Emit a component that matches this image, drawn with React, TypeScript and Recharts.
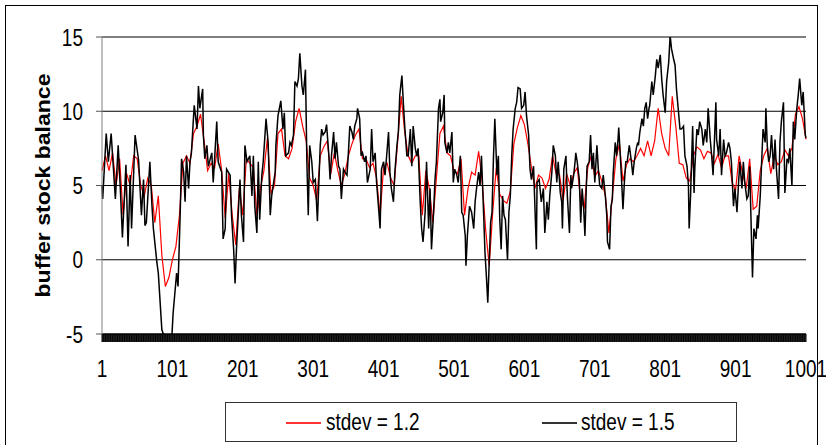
import React from 'react';
import { LineChart, Line, XAxis, YAxis, CartesianGrid } from 'recharts';

// red series is read every 5th period
const lowPeriods: number[] = Array.from({ length: 201 }, (_, i) => 1 + i * 5);

// stdev = 1.2 (red)
const lowStdev: number[] = [
  6.0, 7.0, 6.0, 7.2, 5.0, 6.8, 3.0, 5.8, 5.0, 7.0,
  6.8, 5.0, 4.3, 5.5, 5.0, 2.5, 4.3, 0.3, -1.8, -1.2,
  0.0, 0.9, 3.0, 6.5, 7.0, 6.5, 8.5, 9.0, 9.8, 8.0,
  6.0, 6.5, 6.2, 7.8, 6.0, 2.8, 5.8, 3.0, 1.0, 4.8,
  3.0, 6.8, 6.5, 6.2, 3.0, 4.8, 6.0, 8.2, 4.5,
  5.0, 8.5, 8.8, 7.0, 6.8, 7.5, 9.3, 10.2, 9.0, 8.0,
  5.5, 5.0, 4.0, 7.0, 7.6, 8.0, 5.8, 7.2, 6.0, 5.0,
  5.8, 7.0, 7.8, 8.4, 8.8, 6.8, 6.8, 6.2, 6.5, 5.5,
  3.0, 6.2, 6.5, 5.5, 5.0, 8.0, 11.0, 8.6, 7.0, 6.5,
  7.0, 7.0, 3.0, 6.0, 4.8,
  2.5, 5.5, 8.5, 9.0, 7.2, 7.0, 6.0, 5.8, 6.8, 3.0,
  4.8, 5.9, 5.7, 7.3, 5.3, 2.0, -0.4, 3.2, 6.2, 4.4,
  4.0, 3.8, 4.6, 7.8, 8.9, 9.7, 9.1, 7.8, 6.2, 4.8,
  5.7, 5.5, 4.8, 5.4, 7.0,
  5.8, 5.7, 4.0, 5.8, 5.0, 5.8, 6.2, 4.0, 3.5, 6.2,
  7.0, 5.6, 6.0, 5.3, 4.3, 1.8, 4.3, 6.8, 7.8, 5.3,
  6.4, 6.8, 6.6, 7.0, 7.5, 7.0, 8.0, 7.0, 8.0, 10.2,
  8.5, 7.5, 7.0, 11.0,
  9.0, 6.5, 6.4, 5.5, 5.3, 7.0, 7.6, 7.4, 6.8, 7.3,
  7.2, 6.5, 7.1, 6.2, 7.0, 7.0, 5.2, 4.7, 7.0, 5.8,
  4.8, 6.8, 3.4, 3.6, 6.0, 7.0, 7.5, 5.8, 7.0, 6.4,
  6.6, 7.4, 7.0, 7.5, 9.8, 10.3, 9.5, 8.1,
];

// black series is read at its turning points
const highPeriods: number[] = [
  1, 2, 7, 10, 14, 20, 24, 27, 30, 35, 38, 41, 43, 48, 53, 57, 60, 62, 64, 69,
  72, 74, 79, 81, 86, 88, 91, 95, 100, 102, 107, 109, 112, 114, 117, 119, 121, 124, 126, 128,
  132, 136, 138, 140, 144, 145, 147, 150, 152, 157, 159, 164, 166, 171, 173, 176, 178, 183, 185, 188,
  190, 192, 197, 199, 202, 204, 207, 211, 214, 216, 218, 221, 223, 225, 228, 230, 234, 237, 240,
  242, 247, 248, 251, 255, 258, 260, 262, 266, 268, 270, 273, 275, 278, 280, 282, 285, 287, 290, 292,
  294, 296, 299, 301, 304, 307, 311, 313, 315, 318, 320, 323, 325, 327, 330, 332, 334, 337, 339, 341,
  344, 346, 349, 351, 353, 356, 358, 360, 363, 364, 367, 369, 371, 374, 376, 378, 382, 384, 386, 389,
  391, 394, 396, 398, 401, 403, 405, 408, 410, 412, 415, 417, 420, 422, 424, 427, 429, 431, 434, 436,
  439, 441, 443, 446, 448, 450, 453, 455, 457, 460, 462, 465, 467, 469, 472, 474, 476, 479, 481,
  482, 485, 487, 488, 491, 493, 495, 498, 500, 502, 505, 507, 510, 512, 514, 517, 518, 520, 523, 526,
  529, 531, 533, 536, 538, 540, 543, 545, 547, 549, 551, 553, 555, 557, 559, 562, 564, 566, 568, 570,
  572, 574, 577, 579, 581, 583, 585, 588, 590, 592, 595, 597, 600, 602, 604, 607, 609, 611, 614, 618,
  619, 622, 625, 628, 630, 633, 635, 637, 640, 642, 645, 647, 649, 652,
  654, 655, 657, 660, 662, 665, 667, 668, 671, 673, 674, 676, 679, 681, 683, 685, 687, 689, 690, 693,
  695, 697, 699, 701, 704, 706, 708, 711, 713, 716, 718, 719, 722, 724, 726, 727, 730, 732, 734, 735,
  738, 739, 741, 743, 745, 747, 750, 753, 755, 757, 760, 762, 763, 765, 768, 770, 772, 774, 776, 778,
  779, 782, 784, 787, 789, 791, 794, 796, 798, 801, 803, 806, 808, 810, 813, 815, 817, 820, 822,
  824, 827, 829, 832, 834, 835, 837, 840, 842, 843, 846, 848, 850, 853, 855, 858, 860, 862, 865, 867,
  869, 871, 873, 874, 877, 879, 881, 884, 886, 888, 891, 893, 895, 898, 900, 903, 905, 907, 910, 912,
  914, 917, 919, 921, 923, 925, 927, 930, 932, 933, 936, 938, 940, 943, 944, 946, 948, 950, 952, 955,
  957, 959, 962, 964, 966, 969, 971, 974, 976, 978, 981, 983, 985, 988, 990, 992, 995, 997, 1000, 1001,
];

// stdev = 1.5 (black)
const highStdev: number[] = [
  5.0, 4.1, 8.5, 6.6, 8.5, 4.1, 7.7, 4.8, 1.5, 6.4, 0.9, 5.7, 2.1, 8.4, 6.7, 3.0, 5.4, 2.3, 2.5, 6.6,
  3.6, 2.1, -0.2, -0.9, -4.7, -5.0, -6.1, -5.6, -5.4, -3.6, -0.9, -1.8, 3.0, 6.8, 5.9, 3.9, 7.0, 4.8, 6.6, 7.2,
  10.4, 8.8, 11.7, 10.2, 11.5, 8.4, 6.8, 7.7, 6.3, 7.2, 5.2, 9.3, 6.6, 5.9, 1.4, 2.1, 6.1, 5.7, 3.0, 0.7,
  -1.6, 0.7, 5.4, 3.0, 1.2, 7.7, 6.6, 7.0, 4.3, 7.0, 3.6, 1.8, 6.6, 2.7, 5.7, 6.6, 9.5, 7.9, 3.0,
  4.3, 5.9, 7.7, 9.7, 10.7, 8.8, 9.9, 7.0, 7.2, 7.9, 7.7, 8.4, 12.0, 11.7, 12.2, 13.9, 11.7, 11.1, 12.8, 6.6,
  3.0, 7.7, 6.6, 5.2, 5.4, 2.6, 7.7, 8.8, 8.4, 8.6, 9.1, 7.2, 5.4, 7.0, 8.6, 6.8, 7.9, 6.3, 6.1, 4.1,
  6.1, 5.9, 5.7, 7.2, 9.0, 8.6, 8.1, 9.0, 9.5, 10.2, 9.5, 7.0, 7.2, 6.6, 7.0, 5.2, 6.1, 8.8, 6.6, 7.2,
  5.2, 3.4, 2.1, 6.1, 6.6, 5.7, 6.8, 8.6, 5.9, 4.8, 3.9, 5.9, 7.7, 8.6, 11.1, 12.4, 10.6, 9.0, 7.0, 7.0,
  8.8, 6.3, 9.0, 7.5, 7.0, 7.5, 3.9, 2.1, 1.2, 3.2, 6.6, 2.1, 4.8, 0.7, 3.2, 5.4, 6.6, 10.2, 10.8,
  9.3, 9.9, 11.1, 7.9, 7.2, 7.9, 7.2, 8.6, 5.2, 6.1, 5.7, 5.2, 7.0, 3.2, 3.0, 1.6, -0.4, 1.6, 3.6, 3.2,
  2.1, 3.9, 4.8, 5.9, 5.0, 7.0, 3.2, 0.5, -1.1, -2.9, -0.2, 2.5, 3.2, 6.8, 9.5, 5.7, 7.0, 2.7, 0.7, 4.3,
  3.0, 2.7, 0.0, 3.2, 4.3, 7.0, 8.8, 10.2, 10.6, 11.6, 11.5, 10.2, 10.4, 11.3, 9.7, 8.4, 6.1, 5.4, 6.3, 0.7,
  5.2, 5.4, 3.9, 4.8, 1.8, 3.9, 2.7, 4.3, 5.9, 7.7, 7.0, 5.2, 6.6, 4.5,
  3.9, 2.1, 6.1, 7.0, 4.3, 1.8, 5.7, 4.8, 5.7, 6.6, 7.2, 6.6, 5.4, 2.5, 4.8, 3.6, 1.6, 5.0, 6.3, 6.6,
  8.4, 6.1, 7.2, 5.2, 7.7, 6.1, 5.0, 4.8, 5.7, 4.3, 3.0, 1.2, 0.7, 3.6, 4.1, 5.7, 7.9, 7.0, 8.1, 8.9,
  6.3, 5.4, 3.4, 5.2, 6.6, 6.6, 7.7, 6.6, 5.7, 6.6, 7.5, 7.9, 7.7, 8.6, 9.5, 9.0, 10.2, 10.6, 9.5, 10.2,
  10.4, 12.0, 11.1, 12.4, 13.5, 12.9, 13.8, 12.2, 11.1, 9.9, 12.0, 13.3, 15.1, 14.2, 13.5, 13.1, 11.5, 9.9, 8.8,
  8.8, 9.0, 7.0, 6.3, 5.0, 2.1, 4.3, 9.0, 4.5, 6.1, 8.8, 8.4, 9.3, 8.8, 7.7, 8.8, 7.9, 10.2, 8.1, 7.0,
  5.7, 8.1, 10.6, 8.1, 7.0, 8.8, 5.7, 8.1, 7.0, 7.2, 7.9, 7.5, 6.6, 3.6, 4.8, 3.2, 5.0, 6.6, 4.8, 6.6,
  5.2, 4.1, 4.3, 6.3, 2.5, -1.2, 2.1, 1.4, 3.0, 2.1, 4.3, 6.6, 8.8, 7.9, 10.2, 7.7, 6.6, 7.0, 8.4, 6.1,
  8.1, 6.1, 4.1, 7.9, 9.3, 10.6, 4.5, 6.8, 6.6, 7.5, 5.0, 9.3, 8.1, 10.2, 11.1, 12.2, 10.4, 11.3, 8.4, 8.2,
];

const xLabels: number[] = [1, 101, 201, 301, 401, 501, 601, 701, 801, 901, 1001];
const yTicks: number[] = [-5, 0, 5, 10, 15];
const seriesNames = ['stdev = 1.2', 'stdev = 1.5'];

// one tick mark per period, like the Excel category axis
const xTickMarks: number[] = Array.from({ length: 1001 }, (_, i) => i + 1);

const lowData = lowPeriods.map((p, i) => ({ period: p, value: lowStdev[i] }));
const highData = highPeriods.map((p, i) => ({ period: p, value: highStdev[i] }));

const FONT = '"Liberation Sans", Arial, sans-serif';

const YTick = (props: any) => {
  const { x, y, payload } = props;
  return (
    <text
      transform={`translate(${x},${y}) scale(1,1.25)`}
      textAnchor="end"
      dy="0.36em"
      fontSize={19}
      fontFamily={FONT}
      fill="#000"
    >
      {payload.value}
    </text>
  );
};

const XTick = (props: any) => {
  const { x, y, payload } = props;
  if (!xLabels.includes(payload.value)) return <g />;
  return (
    <text
      transform={`translate(${x},${y + 26}) scale(1,1.25)`}
      textAnchor="middle"
      dy="0.36em"
      fontSize={19}
      fontFamily={FONT}
      fill="#000"
    >
      {payload.value}
    </text>
  );
};

const YTitle = () => (
  <text
    transform="translate(50,185.5) rotate(-90)"
    textAnchor="middle"
    fontSize={20}
    fontWeight="bold"
    fontFamily={FONT}
    fill="#000"
    textLength={224}
    lengthAdjust="spacingAndGlyphs"
  >
    buffer stock balance
  </text>
);

const legendText: React.CSSProperties = {
  position: 'absolute',
  top: 9,
  fontFamily: FONT,
  fontSize: 19,
  lineHeight: '19px',
  transform: 'scaleY(1.25)',
  transformOrigin: 'left center',
  whiteSpace: 'nowrap',
};

const App: React.FC = () => {
  return (
    <div style={{ position: 'absolute', left: 0, top: 0, width: 826, height: 445, overflow: 'hidden', background: '#fff' }}>
      <div
        style={{
          position: 'absolute',
          left: 5,
          top: 5,
          width: 813,
          height: 470,
          border: '1px solid #000',
          boxSizing: 'border-box',
        }}
      />
      <LineChart
        width={826}
        height={445}
        margin={{ top: 37, right: 20, bottom: 71, left: 0 }}
        style={{ position: 'absolute', left: 0, top: 0 }}
      >
        <CartesianGrid horizontal vertical={false} stroke="#000" strokeWidth={1} />
        <XAxis
          dataKey="period"
          type="number"
          domain={[1, 1001]}
          ticks={xTickMarks}
          interval={0}
          tick={<XTick />}
          tickSize={8}
          tickMargin={0}
          height={40}
          axisLine={{ stroke: '#000' }}
          tickLine={{ stroke: '#000' }}
          allowDuplicatedCategory={false}
        />
        <YAxis
          type="number"
          domain={[-5, 15]}
          ticks={yTicks}
          allowDataOverflow
          width={102}
          tick={<YTick />}
          tickSize={6}
          tickMargin={13}
          axisLine={{ stroke: '#808080' }}
          tickLine={{ stroke: '#555' }}
          label={{ content: () => <YTitle /> }}
        />
        <Line
          data={lowData}
          type="linear"
          dataKey="value"
          name={seriesNames[0]}
          stroke="#ff0000"
          strokeWidth={1.2}
          dot={false}
          isAnimationActive={false}
        />
        <Line
          data={highData}
          type="linear"
          dataKey="value"
          name={seriesNames[1]}
          stroke="#000"
          strokeWidth={1.5}
          dot={false}
          isAnimationActive={false}
        />
      </LineChart>
      <div
        style={{
          position: 'absolute',
          left: 225,
          top: 402,
          width: 512,
          height: 40,
          border: '1px solid #333',
          boxSizing: 'border-box',
          background: '#fff',
        }}
      >
        <div style={{ position: 'absolute', left: 60, top: 19, width: 35, height: 2, background: '#ff3333' }} />
        <div style={{ ...legendText, left: 100 }}>{seriesNames[0]}</div>
        <div style={{ position: 'absolute', left: 316, top: 19, width: 35, height: 2, background: '#333' }} />
        <div style={{ ...legendText, left: 355 }}>{seriesNames[1]}</div>
      </div>
    </div>
  );
};

export default App;
